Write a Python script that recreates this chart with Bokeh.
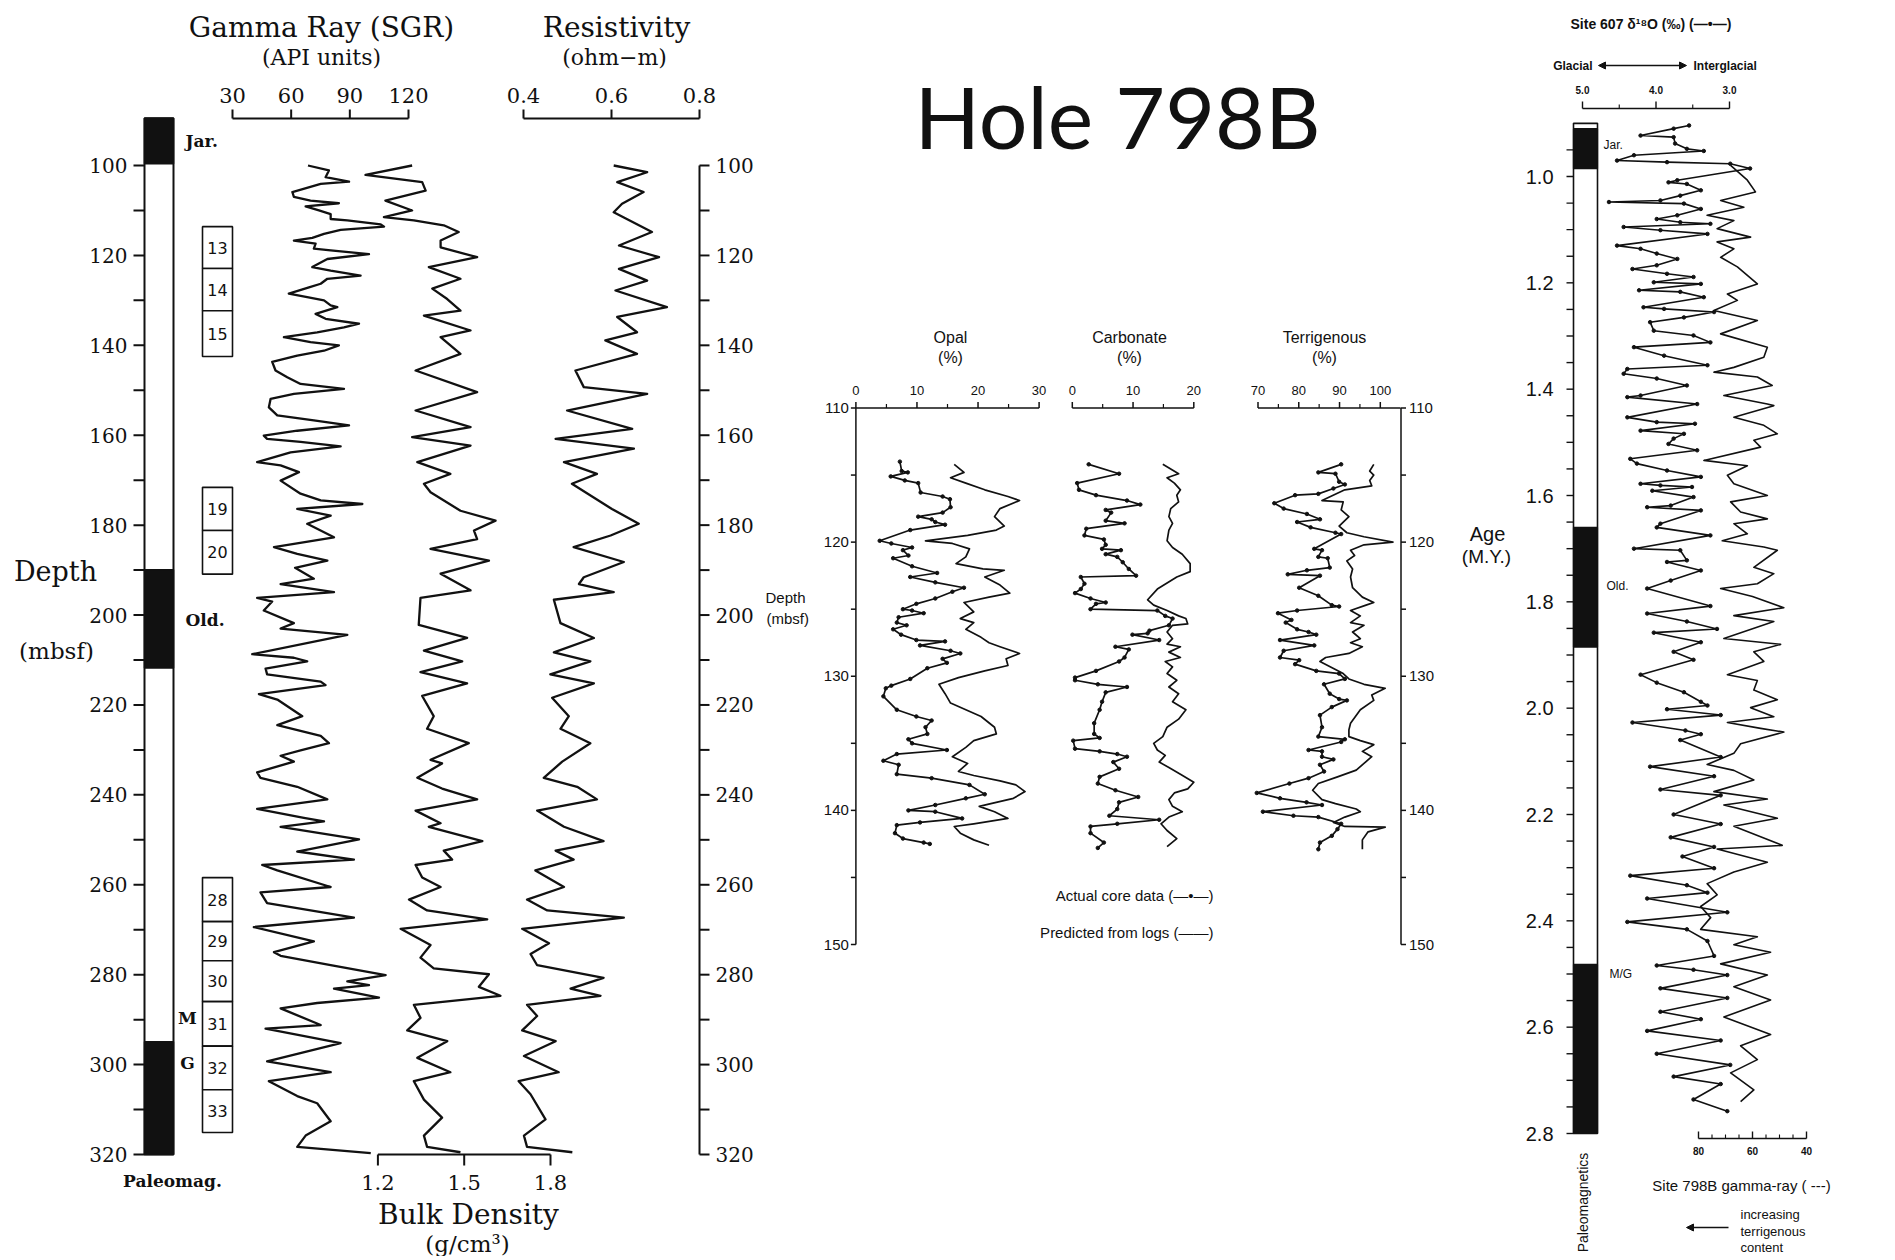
from bokeh.plotting import figure
from bokeh.models import Range1d, Arrow, NormalHead
from bokeh.core.properties import value
from bokeh.embed import file_html
from bokeh.resources import INLINE

# ======================= DATA =======================
# ---- Left panel: Hole 798B downhole logs, (depth mbsf, value) ----
GAMMA_RAY = [(100.0,68.6),(101.1,79.3),(102.6,77.6),(103.6,89.6),(104.1,75.1),(105.9,60.6),(107.0,61.4),(107.8,69.9),
 (108.4,84.4),(109.1,67.4),(110.0,74.2),(110.8,80.2),(111.9,80.2),(112.2,88.7),(113.1,105.8),(113.6,107.5),(114.3,85.3),
 (115.2,76.8),(116.1,70.8),(116.7,61.4),(117.4,72.5),(118.5,71.6),(118.9,80.2),(119.7,99.8),(120.8,78.5),(122.6,70.8),
 (123.4,80.2),(124.5,95.5),(125.2,78.5),(126.3,75.1),(127.1,69.1),(128.5,58.8),(129.3,68.2),(130.0,76.8),(131.1,80.2),
 (131.5,83.6),(133.0,72.5),(134.1,77.6),(135.2,94.7),(136.0,87.0),(137.1,73.3),(138.2,56.3),(139.3,69.9),(140.0,84.4),
 (141.2,76.8),(142.3,63.1),(143.7,50.3),(145.6,52.0),(147.1,58.0),(148.6,64.8),(149.7,87.0),(150.8,61.4),(151.9,49.5),
 (153.8,48.6),(155.6,52.9),(156.7,71.6),(157.8,89.6),(159.0,63.1),(160.1,46.0),(160.8,47.7),(161.5,64.8),(162.5,85.3),
 (163.8,59.7),(166.0,42.6),(166.7,54.6),(168.2,64.0),(170.1,54.6),(173.0,64.8),(174.5,75.1),(175.3,96.4),(176.4,63.1),
 (177.9,80.2),(179.7,68.2),(182.7,81.9),(184.9,51.2),(186.4,63.1),(187.9,78.5),(189.5,62.0),(191.9,71.6),(193.1,54.6),
 (194.9,81.9),(196.2,42.6),(197.0,50.3),(199.0,46.0),(201.8,61.4),(203.0,54.6),(204.4,88.7),(208.7,40.1),(209.5,61.4),
 (210.3,68.2),(211.9,46.9),(213.2,47.7),(214.8,75.1),(215.6,77.6),(217.6,43.5),(218.8,52.9),(222.5,65.7),(224.5,52.9),
 (226.9,75.1),(228.5,79.3),(230.1,64.8),(231.3,54.6),(232.6,61.4),(235.0,42.6),(236.2,44.3),(238.2,63.1),(241.0,78.5),
 (243.1,42.6),(245.1,66.5),(245.9,76.8),(247.1,54.6),(249.9,94.7),(252.6,63.1),(254.4,92.1),(255.6,45.2),(256.8,52.9),
 (260.5,80.2),(261.7,44.3),(264.1,47.7),(267.3,92.1),(269.4,40.9),(272.6,71.6),(275.0,51.2),(275.8,54.6),(277.9,80.2),
 (280.1,108.3),(281.5,88.7),(282.3,99.8),(283.1,81.9),(285.1,104.9),(286.3,73.3),(287.5,54.6),(291.2,75.1),(292.0,46.9),
 (295.2,85.3),(299.3,47.7),(301.7,80.2),(303.7,48.6),(307.0,63.1),(308.6,73.3),(312.6,80.2),(315.8,67.4),(318.3,63.1),
 (319.7,100.7)]

BULK_DENSITY = [(100.0,1.319),(102.1,1.157),(103.7,1.354),(105.6,1.366),(107.8,1.226),(110.0,1.319),(111.5,1.221),
 (112.2,1.325),(113.3,1.429),(114.8,1.481),(116.7,1.418),(118.2,1.418),(120.4,1.545),(122.6,1.377),(125.2,1.487),
 (127.4,1.389),(129.7,1.441),(132.3,1.487),(133.4,1.360),(136.7,1.522),(138.2,1.418),(141.9,1.487),(145.6,1.331),
 (150.4,1.545),(154.5,1.331),(158.2,1.522),(160.4,1.319),(162.3,1.522),(166.0,1.337),(168.6,1.452),(170.8,1.360),
 (172.7,1.383),(176.8,1.487),(179.0,1.609),(181.2,1.534),(183.1,1.545),(185.3,1.383),(187.9,1.586),(190.8,1.418),
 (194.5,1.522),(196.2,1.348),(202.2,1.342),(205.1,1.510),(207.9,1.360),(210.3,1.493),(212.7,1.348),(215.2,1.510),
 (218.0,1.354),(222.5,1.394),(225.3,1.371),(228.5,1.516),(232.2,1.383),(233.0,1.423),(236.2,1.337),(238.6,1.423),
 (241.0,1.545),(243.5,1.331),(246.3,1.418),(247.1,1.377),(250.3,1.563),(252.4,1.429),(254.4,1.458),(255.6,1.331),
 (258.4,1.354),(260.5,1.418),(263.3,1.308),(265.7,1.371),(267.7,1.580),(269.8,1.279),(273.4,1.383),(276.2,1.348),
 (278.6,1.394),(279.9,1.586),(282.7,1.551),(284.7,1.626),(286.7,1.325),(289.6,1.348),(292.4,1.302),(294.8,1.441),
 (298.5,1.337),(301.7,1.452),(303.7,1.325),(307.8,1.360),(311.8,1.423),(315.8,1.360),(318.3,1.371),(319.5,1.487)]

RESISTIVITY = [(100.0,0.605),(101.5,0.681),(103.7,0.613),(105.9,0.673),(108.5,0.624),(110.4,0.605),(114.8,0.692),
 (117.8,0.617),(120.4,0.708),(123.0,0.617),(125.6,0.681),(127.8,0.609),(131.5,0.726),(133.7,0.613),(137.1,0.658),
 (138.9,0.586),(141.9,0.658),(145.6,0.518),(149.3,0.537),(150.8,0.681),(154.5,0.499),(158.6,0.647),(160.8,0.473),
 (163.0,0.651),(166.0,0.492),(168.6,0.567),(170.8,0.510),(176.4,0.601),(179.7,0.662),(182.3,0.598),(184.9,0.514),
 (188.2,0.628),(191.6,0.537),(193.1,0.526),(194.9,0.605),(196.6,0.469),(201.8,0.484),(205.1,0.560),(208.3,0.469),
 (210.3,0.552),(213.2,0.461),(215.2,0.560),(218.4,0.465),(222.5,0.503),(225.3,0.484),(228.5,0.552),(232.6,0.488),
 (236.2,0.446),(238.2,0.522),(241.0,0.567),(243.5,0.431),(247.1,0.492),(250.3,0.582),(252.4,0.473),(254.4,0.514),
 (256.8,0.427),(260.5,0.492),(263.3,0.408),(265.7,0.454),(267.3,0.628),(269.8,0.397),(273.0,0.458),(275.4,0.416),
 (277.9,0.431),(280.7,0.582),(283.1,0.507),(284.7,0.575),(286.7,0.408),(289.2,0.431),(292.4,0.397),(294.8,0.473),
 (298.1,0.401),(301.7,0.480),(303.7,0.389),(306.6,0.416),(312.2,0.450),(315.8,0.401),(318.3,0.408),(319.5,0.511)]

# paleomagnetic column (depth mbsf): normal-polarity intervals drawn black
PALEO_COLUMN = (89.5, 320.0)
PALEO_TOP = [89.5, 189.9, 294.9]
PALEO_BOT = [99.6, 211.8, 320.0]
PALEO_NAMES = ["Jar.", "Old."]
PALEO_NAME_DEPTH = [94.5, 201.0]
MG_NAMES = ["M", "G"]
MG_DEPTH = [289.6, 299.7]

CHRON_LABELS = ["13", "14", "15", "19", "20", "28", "29", "30", "31", "32", "33"]
CHRON_TOP = [113.6, 122.9, 132.3, 171.6, 181.2, 258.4, 268.2, 276.9, 286.0, 295.9, 305.6]
CHRON_BOT = [122.9, 132.3, 142.5, 181.2, 190.9, 268.2, 276.9, 286.0, 295.9, 305.6, 315.1]

GAMMA_TICKS = [30, 60, 90, 120]
RES_TICKS = [0.4, 0.6, 0.8]
DEN_TICKS = [1.2, 1.5, 1.8]
DEPTH_L_TICKS = [100, 110, 120, 130, 140, 150, 160, 170, 180, 190, 200, 210, 220,
                 230, 240, 250, 260, 270, 280, 290, 300, 310, 320]
DEPTH_L_LABELS = [100, 120, 140, 160, 180, 200, 220, 240, 260, 280, 300, 320]

# ---- Middle panel: composition, actual core data vs predicted from logs ----
OPAL_ACTUAL = [(114.0,7.2),(114.7,7.5),(114.8,8.5),(115.1,5.7),(115.4,8.0),(115.6,10.2),(116.3,10.6),(116.6,14.2),
 (116.8,15.4),(117.4,15.5),(117.8,14.2),(118.1,10.2),(118.3,12.4),(118.5,13.0),(118.7,14.6),(119.1,8.9),(119.9,3.9),
 (120.1,5.8),(120.4,9.2),(120.6,7.7),(121.0,8.6),(121.2,6.1),(121.8,9.2),(122.3,13.3),(122.6,8.9),(123.0,13.0),
 (123.4,17.7),(123.7,15.8),(124.2,13.0),(124.6,9.9),(125.0,7.7),(125.1,9.2),(125.3,11.1),(125.6,7.0),(126.0,6.7),
 (126.2,8.3),(126.5,6.1),(126.9,7.4),(127.3,9.9),(127.4,14.6),(127.7,10.5),(128.1,15.5),(128.3,17.1),(128.7,14.2),
 (129.0,14.9),(129.4,11.7),(130.2,8.9),(130.7,5.8),(130.9,4.9),(131.5,4.5),(132.5,6.7),(133.0,9.9),(133.3,12.4),
 (133.8,11.4),(134.3,11.7),(134.7,8.6),(135.0,9.2),(135.5,14.9),(135.8,6.7),(136.3,4.5),(136.6,7.0),(137.3,6.7),
 (137.6,12.4),(138.1,18.6),(138.8,21.1),(139.1,18.0),(139.6,13.0),(140.0,8.6),(140.1,13.0),(140.6,17.4),(140.9,10.5),
 (141.1,6.7),(141.7,6.4),(142.1,7.7),(142.4,11.1),(142.5,12.1)]
OPAL_PRED = [(114.2,16.1),(114.8,17.7),(115.2,15.5),(115.6,18.0),(116.1,21.1),(116.6,24.9),(116.9,26.8),(117.5,23.6),
 (118.1,22.7),(118.8,24.3),(119.1,23.0),(119.5,18.3),(119.9,11.4),(120.1,15.8),(120.5,18.6),(121.1,18.0),(121.6,16.4),
 (122.0,20.8),(122.1,24.3),(122.6,21.1),(123.2,23.6),(123.8,25.2),(124.1,21.8),(124.5,17.7),(125.2,19.3),(125.7,17.1),
 (126.0,19.3),(126.5,18.0),(127.1,20.5),(127.5,21.8),(127.8,23.6),(128.3,26.8),(128.7,24.6),(129.2,24.9),(129.6,21.1),
 (130.1,16.8),(130.6,13.6),(131.3,14.6),(132.0,15.5),(133.0,20.5),(133.8,22.7),(134.3,23.0),(134.8,19.3),(135.3,18.0),
 (136.0,15.8),(136.5,18.3),(137.1,16.8),(137.4,19.3),(137.8,23.6),(138.1,26.2),(138.6,27.7),(139.1,25.8),(139.5,22.1),
 (139.7,20.2),(140.1,22.7),(140.6,24.9),(141.0,19.3),(141.2,16.1),(141.7,17.1),(142.2,19.3),(142.6,21.8)]
CARB_ACTUAL = [(114.2,2.7),(114.9,7.7),(115.6,0.8),(116.1,1.1),(116.5,3.9),(116.9,9.0),(117.2,11.2),(117.6,5.5),
 (117.8,6.4),(118.4,5.5),(118.6,8.6),(119.0,2.3),(119.5,2.0),(119.8,5.2),(120.2,5.5),(120.5,4.9),(120.6,8.0),(120.9,5.5),
 (121.1,7.4),(121.5,8.3),(122.0,9.3),(122.5,10.5),(122.6,1.4),(123.1,2.0),(123.5,1.4),(123.8,0.45),(124.2,3.0),(124.5,5.5),
 (124.6,3.9),(125.0,3.0),(125.1,14.0),(125.5,15.3),(125.7,16.5),(126.2,15.9),(126.6,12.7),(126.8,12.4),(126.9,9.9),
 (127.3,14.3),(127.8,7.1),(128.0,9.3),(128.6,8.6),(128.9,7.7),(129.6,3.9),(130.1,0.45),(130.3,0.45),(130.6,4.2),
 (130.8,9.0),(131.2,5.5),(131.9,4.9),(132.5,4.5),(133.5,3.6),(134.3,3.6),(134.6,4.5),(134.8,0.15),(135.4,0.45),
 (135.6,4.5),(135.8,7.4),(136.0,9.0),(136.4,6.75),(136.9,7.7),(137.5,4.5),(138.0,4.2),(138.5,7.1),(139.0,10.85),
 (139.4,7.7),(139.9,7.4),(140.4,6.1),(140.7,14.3),(141.0,7.4),(141.2,3.0),(141.7,3.0),(142.4,5.2),(142.8,4.2)]
CARB_PRED = [(114.2,14.9),(114.9,17.5),(115.2,15.6),(115.6,16.8),(116.1,17.8),(116.5,17.2),(117.0,17.5),(117.5,16.2),
 (118.1,15.9),(118.6,16.5),(119.1,15.9),(119.9,15.6),(120.4,16.5),(120.9,18.1),(121.6,19.4),(122.2,19.4),(122.6,17.2),
 (123.5,14.0),(124.3,12.4),(124.7,13.4),(125.1,15.6),(125.5,17.5),(125.7,18.7),(126.1,19.0),(126.2,16.5),(126.7,15.6),
 (127.2,16.5),(127.6,15.6),(127.8,17.8),(128.2,15.9),(128.6,17.8),(128.9,15.3),(129.3,16.5),(129.8,15.6),(130.3,17.2),
 (130.8,15.9),(131.3,17.5),(131.9,16.5),(132.5,18.7),(133.2,17.5),(133.8,15.6),(134.5,14.9),(135.0,13.4),(135.5,14.0),
 (135.9,15.3),(136.4,14.3),(136.8,15.9),(137.3,17.8),(137.9,20.0),(138.4,19.0),(138.7,16.8),(139.2,15.9),(139.7,16.5),
 (140.1,18.1),(140.5,15.9),(141.0,14.6),(141.5,15.6),(142.1,17.2),(142.7,15.6)]
TERR_ACTUAL = [(114.2,90.4),(114.8,84.8),(114.9,89.0),(115.5,89.9),(115.7,91.3),(116.0,88.5),(116.4,84.8),(116.5,79.1),
 (117.1,74.0),(117.5,76.3),(117.9,82.0),(118.3,85.2),(118.5,79.6),(118.9,82.9),(119.3,89.0),(119.4,90.4),(120.5,83.8),
 (120.6,85.7),(121.1,84.8),(121.2,87.1),(121.9,87.6),(122.1,82.0),(122.4,77.3),(122.5,85.2),(123.4,80.1),(124.0,84.8),
 (124.7,88.1),(124.8,89.9),(125.1,79.6),(125.3,74.9),(125.8,78.2),(126.0,76.8),(126.5,79.6),(126.7,82.4),(126.9,84.3),
 (127.3,75.4),(127.7,83.8),(128.1,76.3),(128.6,75.4),(128.8,80.1),(129.1,79.1),(129.6,84.3),(129.8,89.9),(130.2,91.3),
 (130.6,86.2),(131.3,87.6),(131.7,89.9),(131.8,91.8),(132.3,88.1),(132.9,85.2),(133.8,85.7),(134.5,84.8),(134.7,91.3),
 (134.9,90.4),(135.5,82.4),(135.6,85.7),(136.0,85.7),(136.2,88.5),(136.6,85.2),(137.1,86.2),(137.6,82.4),(138.0,77.7),
 (138.7,69.7),(139.1,75.4),(139.4,81.9),(139.6,85.7),(140.1,71.2),(140.4,78.7),(140.5,84.8),(141.0,90.4),(141.4,89.5),
 (141.9,88.1),(142.4,85.2),(142.9,84.8)]
TERR_PRED = [(114.2,98.4),(114.7,97.4),(115.0,98.4),(115.4,97.4),(115.8,97.9),(116.1,91.3),(116.9,85.7),(117.0,90.9),
 (117.6,90.4),(118.1,92.3),(118.8,89.9),(119.3,91.8),(119.6,96.0),(120.0,103.1),(120.2,96.0),(120.6,92.7),(121.0,93.7),
 (121.4,91.8),(122.0,93.2),(122.6,92.7),(123.4,93.2),(124.1,95.6),(124.5,98.4),(124.7,96.5),(125.1,92.7),(125.5,95.1),
 (126.0,92.7),(126.2,96.0),(126.7,93.2),(127.2,95.1),(127.5,92.7),(127.8,95.6),(128.3,92.3),(128.6,86.6),(128.9,85.2),
 (129.8,90.9),(130.2,92.3),(130.6,96.0),(130.9,101.2),(131.4,97.9),(131.8,98.4),(132.5,95.1),(133.5,92.7),(134.0,92.3),
 (134.5,92.3),(134.8,95.1),(135.1,98.4),(135.6,95.6),(136.0,97.9),(136.5,96.0),(137.0,94.1),(137.5,89.5),(138.0,84.8),
 (138.5,83.4),(139.2,85.7),(139.5,89.0),(139.9,94.1),(140.1,95.1),(140.5,91.3),(140.9,88.5),(141.2,91.3),(141.25,101.2),
 (141.6,97.0),(142.2,95.6),(142.9,95.6)]

OPAL_TICKS = [0, 10, 20, 30]
OPAL_MINOR = [5, 15, 25]
CARB_TICKS = [0, 10, 20]
CARB_MINOR = [5, 15]
TERR_TICKS = [70, 80, 90, 100]
TERR_MINOR = [75, 85, 95]
DEPTH_M_TICKS = [110, 115, 120, 125, 130, 135, 140, 145, 150]
DEPTH_M_LABELS = [110, 120, 130, 140, 150]

# ---- Right panel: Site 607 d18O and Site 798B gamma ray vs age (M.Y.) ----
D18O = [(0.904,3.55),(0.910,3.76),(0.923,4.21),(0.926,3.76),(0.938,3.74),(0.948,3.58),(0.952,3.35),(0.960,4.30),
 (0.970,4.53),(0.973,3.85),(0.976,2.99),(0.985,2.72),(1.007,3.71),(1.011,3.83),(1.014,3.58),(1.026,3.39),(1.036,3.67),
 (1.045,3.94),(1.048,4.64),(1.051,3.62),(1.061,3.39),(1.073,3.71),(1.080,3.99),(1.086,3.67),(1.089,3.26),(1.095,4.44),
 (1.101,3.94),(1.108,3.30),(1.130,4.53),(1.136,4.21),(1.145,3.99),(1.155,3.71),(1.167,3.99),(1.174,4.32),(1.183,3.85),
 (1.189,3.49),(1.199,4.03),(1.202,3.39),(1.214,4.23),(1.217,3.67),(1.227,3.35),(1.246,4.17),(1.249,3.89),(1.255,3.21),
 (1.265,3.62),(1.274,4.08),(1.290,4.03),(1.299,3.49),(1.312,3.26),(1.321,4.30),(1.337,3.89),(1.355,3.30),(1.362,4.39),
 (1.371,4.44),(1.380,3.99),(1.393,3.58),(1.412,4.21),(1.415,4.39),(1.428,3.44),(1.453,4.39),(1.462,3.99),(1.465,3.47),
 (1.478,4.21),(1.484,3.62),(1.493,3.76),(1.503,3.83),(1.515,3.44),(1.531,4.35),(1.540,4.26),(1.553,3.85),(1.565,3.39),
 (1.578,4.21),(1.581,3.94),(1.584,3.51),(1.591,4.05),(1.603,3.49),(1.619,3.80),(1.622,4.12),(1.628,3.39),(1.653,3.94),
 (1.660,3.99),(1.675,3.26),(1.700,4.30),(1.703,3.67),(1.722,3.58),(1.725,3.85),(1.741,3.39),(1.760,3.80),(1.775,4.12),
 (1.808,3.26),(1.822,4.12),(1.837,3.58),(1.851,3.17),(1.858,4.03),(1.876,3.39),(1.894,3.76),(1.909,3.49),(1.937,4.21),
 (1.952,3.99),(1.970,3.62),(1.988,3.39),(1.995,3.30),(2.002,3.85),(2.013,3.12),(2.027,4.32),(2.042,3.60),(2.049,3.39),
 (2.060,3.67),(2.092,3.12),(2.110,4.08),(2.128,3.21),(2.153,3.94),(2.164,3.12),(2.200,3.76),(2.218,3.12),(2.243,3.80),
 (2.261,3.21),(2.279,3.64),(2.301,3.21),(2.315,4.35),(2.333,3.58),(2.347,3.30),(2.358,4.12),(2.384,3.03),(2.402,4.39),
 (2.416,3.58),(2.438,3.30),(2.466,3.21),(2.484,3.99),(2.492,3.49),(2.502,3.03),(2.527,3.94),(2.545,3.03),(2.571,3.94),
 (2.585,3.39),(2.607,4.12),(2.625,3.12),(2.650,3.99),(2.671,2.99),(2.693,3.76),(2.707,3.12),(2.736,3.49),(2.758,3.03)]
GR_798B = [(0.979,68.1),(1.007,61.9),(1.029,58.9),(1.045,71.8),(1.058,63.2),(1.073,76.8),(1.083,66.9),(1.098,73.1),
 (1.114,60.7),(1.123,73.1),(1.136,66.9),(1.152,71.8),(1.170,65.6),(1.202,58.2),(1.221,69.3),(1.233,65.6),(1.252,74.3),
 (1.271,58.2),(1.296,71.8),(1.321,54.5),(1.340,55.8),(1.359,66.9),(1.368,74.3),(1.377,58.2),(1.393,52.7),(1.412,70.6),
 (1.428,54.5),(1.431,52.1),(1.453,66.9),(1.468,55.8),(1.484,50.8),(1.496,59.5),(1.509,57.0),(1.534,78.0),(1.544,61.9),
 (1.562,69.3),(1.578,66.9),(1.600,54.5),(1.612,68.1),(1.631,64.4),(1.644,54.5),(1.653,66.9),(1.672,61.9),(1.685,71.2),
 (1.697,55.8),(1.703,50.8),(1.735,59.5),(1.747,52.1),(1.766,58.2),(1.775,71.8),(1.790,60.0),(1.811,48.4),(1.826,66.9),
 (1.837,52.1),(1.869,70.6),(1.880,49.6),(1.894,59.5),(1.912,55.8),(1.937,69.3),(1.948,58.2),(1.966,59.5),(1.984,50.8),
 (1.999,60.7),(2.016,52.1),(2.027,69.3),(2.038,57.0),(2.045,48.4),(2.067,64.4),(2.085,66.9),(2.106,76.8),(2.117,66.9),
 (2.135,59.5),(2.157,74.3),(2.171,54.5),(2.182,70.6),(2.207,50.8),(2.222,66.9),(2.258,49.0),(2.265,73.1),(2.290,54.5),
 (2.308,66.9),(2.330,76.8),(2.351,73.1),(2.373,79.2),(2.394,75.5),(2.416,79.2),(2.430,58.2),(2.445,66.9),(2.459,53.3),
 (2.481,71.8),(2.502,54.5),(2.524,66.9),(2.549,53.3),(2.581,70.6),(2.614,53.3),(2.635,64.4),(2.661,58.2),(2.686,68.1),
 (2.718,59.5),(2.740,64.4)]

AGE_COLUMN = (0.90, 2.80)
AGE_PALEO_TOP = [0.91, 1.66, 2.482]
AGE_PALEO_BOT = [0.985, 1.885, 2.80]
AGE_PALEO_NAMES = ["Jar.", "Old.", "M/G"]
AGE_PALEO_NAME_AGE = [0.94, 1.77, 2.50]
AGE_LABELS = [1.0, 1.2, 1.4, 1.6, 1.8, 2.0, 2.2, 2.4, 2.6, 2.8]
D18O_TICKS = [5.0, 4.0, 3.0]
D18O_MINOR = [4.5, 3.5]
GR_TICKS = [80, 60, 40]
GR_MINOR = [75, 70, 65, 55, 50, 45]

# ======================= LAYOUT =======================
W, H = 1890, 1256
M = 0  # Bokeh's page template puts the figure at the window's top-left corner


def lin_range(v1, p1, v2, p2, horizontal):
    k = (v2 - v1) / (p2 - p1)
    a, b = (M, M + W) if horizontal else (M + H, M)
    return Range1d(start=v1 + (a - p1) * k, end=v1 + (b - p1) * k)


p = figure(width=W, height=H, x_range=Range1d(M, M + W), y_range=Range1d(M + H, M),
           output_backend="svg", toolbar_location=None,
           x_axis_location=None, y_axis_location=None, min_border=0)
p.outline_line_color = None
p.background_fill_color = "white"
p.border_fill_color = "white"
p.grid.visible = False
p.xgrid.grid_line_color = None
p.ygrid.grid_line_color = None

p.extra_x_ranges = {
    "gam": lin_range(30, 232, 120, 408, True),
    "res": lin_range(0.4, 523, 0.8, 699, True),
    "den": lin_range(1.2, 377.4, 1.8, 550, True),
    "opal": lin_range(0, 855.4, 30, 1038.6, True),
    "carb": lin_range(0, 1071.8, 20, 1193.3, True),
    "terr": lin_range(70, 1257.5, 100, 1379.8, True),
    "d18o": lin_range(5.0, 1582, 3.0, 1729, True),
    "gr2": lin_range(80, 1698, 40, 1806, True),
}
p.extra_y_ranges = {
    "dL": lin_range(100, 165, 320, 1154, False),
    "dM": lin_range(110, 407.5, 150, 944, False),
    "age": lin_range(1.0, 176, 2.8, 1133, False),
}

SERIF = "DejaVu Serif"
SANS = "Liberation Sans"
INK = "#111111"


def split(seq):
    return [a for a, _ in seq], [b for _, b in seq]


def txt(xs, ys, texts, size, font=SERIF, align="center", baseline="middle",
        style="normal", angle=0.0, xr="default", yr="default"):
    if not isinstance(xs, list):
        xs = [xs]
    if not isinstance(ys, list):
        ys = [ys] * len(xs)
    if not isinstance(texts, list):
        texts = [texts]
    p.text(x=xs, y=ys, text=texts, text_font=value(font), text_font_size=f"{size}px",
           text_align=align, text_baseline=baseline, text_font_style=style, angle=angle,
           text_color=INK, x_range_name=xr, y_range_name=yr)


def h_axis(xr, y, lo, hi, major, labels, minor=(), up=True, tick=9, mtick=5,
           lab_off=23, size=20, font=SERIF, style="normal", lw=2.0):
    s = -1 if up else 1
    p.segment(x0=[lo], y0=[y], x1=[hi], y1=[y], line_color=INK, line_width=lw, x_range_name=xr)
    p.segment(x0=major, y0=[y] * len(major), x1=major, y1=[y + s * tick] * len(major),
              line_color=INK, line_width=lw, x_range_name=xr)
    if minor:
        minor = list(minor)
        p.segment(x0=minor, y0=[y] * len(minor), x1=minor, y1=[y + s * mtick] * len(minor),
                  line_color=INK, line_width=lw * 0.8, x_range_name=xr)
    txt(list(major), [y + s * lab_off] * len(major), labels, size, font=font, style=style, xr=xr)


def v_axis(yr, x, lo, hi, ticks, lab_vals, right=False, tick=10, lab_gap=6,
           size=20, font=SERIF, lw=2.0, line=True, style="normal"):
    s = 1 if right else -1
    if line:
        p.segment(x0=[x], y0=[lo], x1=[x], y1=[hi], line_color=INK, line_width=lw, y_range_name=yr)
    p.segment(x0=[x] * len(ticks), y0=ticks, x1=[x + s * tick] * len(ticks), y1=ticks,
              line_color=INK, line_width=lw, y_range_name=yr)
    lx = x + s * (tick + lab_gap)
    txt([lx] * len(lab_vals), [float(v) for v in lab_vals],
        [f"{v:g}" if isinstance(v, int) else f"{v:.1f}" for v in lab_vals],
        size, font=font, align="left" if right else "right", style=style, yr=yr)


# ------------------------- LEFT PANEL -------------------------
txt(321, 27, "Gamma Ray (SGR)", 28)
txt(321, 57, "(API units)", 22)
txt(616, 27, "Resistivity", 28)
txt(614, 57, "(ohm\u2212m)", 22)
h_axis("gam", 118, 30, 120, GAMMA_TICKS, [str(v) for v in GAMMA_TICKS], tick=9, lab_off=23, size=21)
h_axis("res", 118, 0.4, 0.8, RES_TICKS, [f"{v:.1f}" for v in RES_TICKS], tick=9, lab_off=23, size=21)
h_axis("den", 1154, 1.2, 1.8, DEN_TICKS, [f"{v:.1f}" for v in DEN_TICKS], up=False, tick=11, lab_off=28, size=21)
txt(468, 1214, "Bulk Density", 28)
txt(467, 1243, "(g/cm\u00b3)", 23)

# paleomag column
p.quad(left=[144], right=[173], top=[PALEO_COLUMN[0]], bottom=[PALEO_COLUMN[1]], fill_color="white",
       line_color=INK, line_width=2, y_range_name="dL")
p.quad(left=[144] * 3, right=[173] * 3, top=PALEO_TOP, bottom=PALEO_BOT, fill_color=INK,
       line_color=INK, line_width=1.5, y_range_name="dL")
txt([185, 185], PALEO_NAME_DEPTH, PALEO_NAMES, 17, align="left", style="bold", yr="dL")
txt([187, 187], MG_DEPTH, MG_NAMES, 17, style="bold", yr="dL")
txt(172, 1180, "Paleomag.", 17, style="bold")
v_axis("dL", 144, 100, 320, DEPTH_L_TICKS, DEPTH_L_LABELS, tick=11, lab_gap=6, size=20, line=False)
txt(55, 571, "Depth", 27)
txt(56, 650, "(mbsf)", 23)

# stage boxes
p.quad(left=[202] * len(CHRON_TOP), right=[232] * len(CHRON_TOP), top=CHRON_TOP, bottom=CHRON_BOT,
       fill_color="white", line_color=INK, line_width=1.6, y_range_name="dL")
txt([217] * len(CHRON_TOP), [(a + b) / 2 for a, b in zip(CHRON_TOP, CHRON_BOT)], CHRON_LABELS, 16,
    font="DejaVu Sans", yr="dL")

# right depth axis
v_axis("dL", 699, 100, 320, DEPTH_L_TICKS, DEPTH_L_LABELS, right=True, tick=10, lab_gap=6, size=20)

d, v = split(GAMMA_RAY)
p.line(v, d, x_range_name="gam", y_range_name="dL", line_color=INK, line_width=2.3, line_join="round")
d, v = split(BULK_DENSITY)
p.line(v, d, x_range_name="den", y_range_name="dL", line_color=INK, line_width=2.3, line_join="round")
d, v = split(RESISTIVITY)
p.line(v, d, x_range_name="res", y_range_name="dL", line_color=INK, line_width=2.3, line_join="round")

# ------------------------- TITLE -------------------------
txt(1117, 115, "Hole 798B", 86, font="Lato")

# ------------------------- MIDDLE PANEL -------------------------
for cx, name in [(950, "Opal"), (1129, "Carbonate"), (1324, "Terrigenous")]:
    txt(cx, 337, name, 16, font=SANS)
    txt(cx, 357, "(%)", 16, font=SANS)
h_axis("opal", 407.5, 0, 30, OPAL_TICKS, [str(v) for v in OPAL_TICKS], OPAL_MINOR, tick=6, mtick=4,
       lab_off=18, size=13, font=SANS, lw=1.5)
h_axis("carb", 407.5, 0, 20, CARB_TICKS, [str(v) for v in CARB_TICKS], CARB_MINOR, tick=6, mtick=4,
       lab_off=18, size=13, font=SANS, lw=1.5)
h_axis("terr", 407.5, 70, 105, TERR_TICKS, [str(v) for v in TERR_TICKS], TERR_MINOR, tick=6, mtick=4,
       lab_off=18, size=13, font=SANS, lw=1.5)
v_axis("dM", 855.4, 110, 150, DEPTH_M_TICKS, DEPTH_M_LABELS, tick=5, lab_gap=2, size=15, font=SANS, lw=1.5)
v_axis("dM", 1400.5, 110, 150, DEPTH_M_TICKS, DEPTH_M_LABELS, right=True, tick=5, lab_gap=3, size=15,
       font=SANS, lw=1.5)
txt(765, 597, "Depth", 15, font=SANS, align="left")
txt(766, 618, "(mbsf)", 15, font=SANS, align="left")
txt(1213, 895, "Actual core data (\u2014\u2022\u2014)", 15, font=SANS, align="right")
txt(1213, 932, "Predicted from logs (\u2014\u2014)", 15, font=SANS, align="right")

for series, rng, dots in [(OPAL_ACTUAL, "opal", True), (OPAL_PRED, "opal", False),
                          (CARB_ACTUAL, "carb", True), (CARB_PRED, "carb", False),
                          (TERR_ACTUAL, "terr", True), (TERR_PRED, "terr", False)]:
    d, v = split(series)
    p.line(v, d, x_range_name=rng, y_range_name="dM", line_color=INK, line_width=1.7, line_join="round")
    if dots:
        p.scatter(v, d, x_range_name=rng, y_range_name="dM", size=3.5, color=INK)

# ------------------------- RIGHT PANEL -------------------------
txt(1570, 23, "Site 607  \u03b4\u00b9\u2078O (\u2030)  (\u2014\u2022\u2014)", 14, font=SANS, align="left", style="bold")
txt(1592, 65, "Glacial", 12, font=SANS, align="right", style="bold")
txt(1693, 65, "Interglacial", 12, font=SANS, align="left", style="bold")
p.add_layout(Arrow(start=NormalHead(size=7, fill_color=INK, line_color=INK),
                   end=NormalHead(size=7, fill_color=INK, line_color=INK),
                   x_start=1598, y_start=65, x_end=1686, y_end=65, line_width=1.6, line_color=INK))
h_axis("d18o", 108, 5.0, 3.0, D18O_TICKS, [f"{v:.1f}" for v in D18O_TICKS], D18O_MINOR, tick=7, mtick=4,
       lab_off=19, size=10, font=SANS, style="bold", lw=1.4)

p.quad(left=[1573], right=[1597], top=[AGE_COLUMN[0]], bottom=[AGE_COLUMN[1]], fill_color="white",
       line_color=INK, line_width=1.6, y_range_name="age")
p.quad(left=[1573] * 3, right=[1597] * 3, top=AGE_PALEO_TOP, bottom=AGE_PALEO_BOT, fill_color=INK,
       line_color=INK, line_width=1.2, y_range_name="age")
age_ticks = [round(0.95 + 0.05 * i, 2) for i in range(38)]
v_axis("age", 1573, 0.95, 2.80, age_ticks, AGE_LABELS, tick=7, lab_gap=13, size=20, font=SANS,
       lw=1.4, line=False)
txt([1603, 1606, 1609], AGE_PALEO_NAME_AGE, AGE_PALEO_NAMES, 12, font=SANS, align="left", yr="age")
txt(1487, 533, "Age", 20, font=SANS)
txt(1486, 556, "(M.Y.)", 19, font=SANS)
txt(1582, 1202, "Paleomagnetics", 14, font=SANS, angle=1.5707963)

h_axis("gr2", 1138, 80, 40, GR_TICKS, [str(v) for v in GR_TICKS], GR_MINOR, tick=7, mtick=4,
       lab_off=-12, size=10, font=SANS, style="bold", lw=1.4)
txt(1741, 1185, "Site 798B gamma-ray ( ---)", 15, font=SANS)
p.add_layout(Arrow(end=NormalHead(size=7, fill_color=INK, line_color=INK),
                   x_start=1728, y_start=1227, x_end=1686, y_end=1227, line_width=1.6, line_color=INK))
txt([1740, 1740, 1740], [1214, 1231, 1247], ["increasing", "terrigenous", "content"], 13, font=SANS, align="left")

a, v = split(D18O)
p.line(v, a, x_range_name="d18o", y_range_name="age", line_color=INK, line_width=1.6, line_join="round")
p.scatter(v, a, x_range_name="d18o", y_range_name="age", size=3.5, color=INK)
a, v = split(GR_798B)
p.line(v, a, x_range_name="gr2", y_range_name="age", line_color=INK, line_width=1.6, line_join="round")

open("out.html", "w").write(file_html(p, INLINE))
